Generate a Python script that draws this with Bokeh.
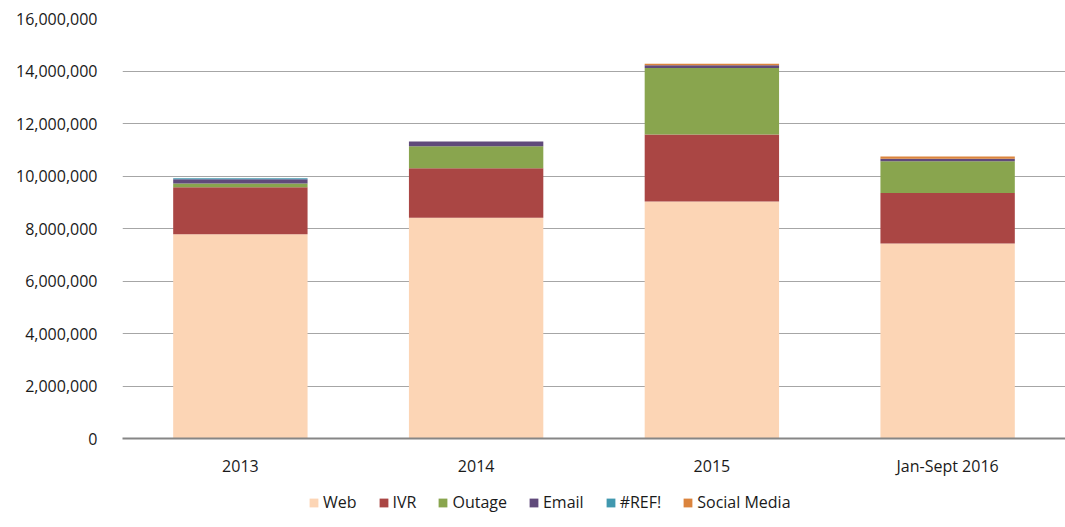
from bokeh.plotting import figure
from bokeh.layouts import column
from bokeh.models import FixedTicker, NumeralTickFormatter, Range1d, FactorRange, Legend
from bokeh.embed import file_html
from bokeh.resources import INLINE

categories = ["2013", "2014", "2015", "Jan-Sept 2016"]
series = ["Web", "IVR", "Outage", "Email", "#REF!", "Social Media"]
web = [7780000, 8410000, 9030000, 7430000]
ivr = [1790000, 1890000, 2550000, 1920000]
outage = [140000, 830000, 2530000, 1210000]
email = [165000, 180000, 110000, 100000]
ref = [40000, 0, 0, 0]
social = [0, 0, 60000, 80000]
colors = ["#FCD5B5", "#AA4644", "#89A54E", "#604A7B", "#4198AF", "#DB843D"]
y_ticks = [0, 2000000, 4000000, 6000000, 8000000, 10000000, 12000000, 14000000, 16000000]

data = dict(cat=categories, Web=web, IVR=ivr, Outage=outage, Email=email)
data["#REF!"] = ref
data["Social Media"] = social

p = figure(x_range=FactorRange(*categories, range_padding=0), y_range=Range1d(0, 16000000),
           width=1065, height=480, output_backend="svg", toolbar_location=None,
           min_border_left=122, min_border_right=0, min_border_top=18, min_border_bottom=42)

p.vbar_stack(series, x="cat", width=0.57, source=data, color=colors, line_color=None)

p.outline_line_color = None
p.xgrid.grid_line_color = None
p.ygrid.grid_line_color = "#A6A6A6"
p.ygrid.grid_line_width = 1

p.yaxis.ticker = FixedTicker(ticks=y_ticks)
p.yaxis.formatter = NumeralTickFormatter(format="0,0")
p.yaxis.axis_line_color = None
p.yaxis.major_tick_line_color = None
p.yaxis.minor_tick_line_color = None
p.yaxis.major_label_standoff = 19
p.yaxis.major_label_text_font = "Open Sans"
p.yaxis.major_label_text_font_size = "16px"
p.yaxis.major_label_text_color = "#1a1a1a"

p.xaxis.axis_line_color = "#868686"
p.xaxis.axis_line_width = 2
p.xaxis.major_tick_line_color = None
p.xaxis.minor_tick_line_color = None
p.xaxis.major_label_standoff = 10
p.xaxis.major_label_text_font = "Open Sans"
p.xaxis.major_label_text_font_size = "16px"
p.xaxis.major_label_text_color = "#1a1a1a"

# legend strip: same stacked series with zero-width bars, so only the legend shows
p2 = figure(x_range=FactorRange(*categories, range_padding=0), y_range=Range1d(-2, -1),
            width=1065, height=40, output_backend="svg", toolbar_location=None,
            min_border_left=0, min_border_right=0, min_border_top=0, min_border_bottom=0)
p2.axis.visible = False
p2.grid.visible = False
p2.outline_line_color = None
rs = p2.vbar_stack(series, x="cat", width=0, source=data, color=colors, line_color=None)
legend = Legend(items=[(s, [r]) for s, r in zip(series, rs)], orientation="horizontal",
                location=(186, 7),
                label_text_font="Open Sans", label_text_font_size="16px",
                label_text_color="#1a1a1a", glyph_width=11, glyph_height=11,
                label_standoff=4, spacing=21, border_line_color=None,
                background_fill_alpha=0, padding=0, margin=0)
p2.add_layout(legend, "center")

layout = column(p, p2, spacing=0)
open("out.html", "w").write(file_html(layout, INLINE))
